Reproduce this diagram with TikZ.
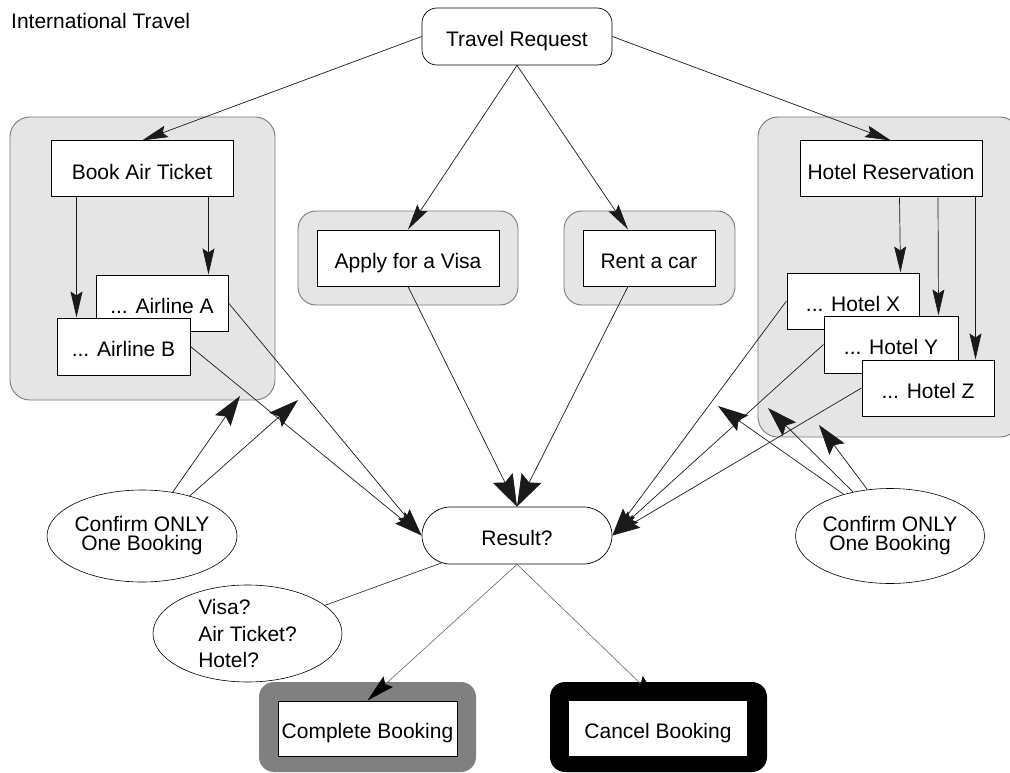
\documentclass[tikz,border=0pt]{standalone}
\usepackage{fontspec}
\setmainfont{Liberation Sans}
\usetikzlibrary{arrows.meta,shapes.geometric,shapes.misc}

\definecolor{grpfill}{HTML}{E5E5E5}
\definecolor{grpline}{HTML}{7A7A7A}
\definecolor{donefill}{HTML}{808080}
\definecolor{wire}{HTML}{1A1A1A}
\definecolor{softwire}{HTML}{666666}

\tikzset{
  lbl/.style={font=\fontsize{21}{25}\selectfont},
  box/.style={lbl, rectangle, draw=black, line width=1pt, fill=white,
    inner sep=0pt, text height=20pt, text depth=0pt},
  grp/.style={rectangle, draw=grpline, line width=0.9pt, fill=grpfill,
    rounded corners=20pt, inner sep=0pt},
  pill/.style={box, rounded rectangle, line width=0.7pt},
  roundbox/.style={box, rounded corners=15pt, line width=0.7pt},
  note/.style={ellipse, draw=black, line width=0.6pt, fill=white,
    inner sep=-6pt, font=\fontsize{21}{19}\selectfont},
  wirebase/.style={draw=wire, line width=0.7pt},
  smalltip/.style={wirebase, -{Stealth[length=26pt,width=12pt,inset=4pt]}},
  midtip/.style={wirebase, -{Stealth[length=28pt,width=15pt,inset=4pt]}},
  bigtip/.style={wirebase, -{Stealth[length=32pt,width=22pt,inset=5pt]}},
  pointer/.style={wirebase, -{Stealth[length=30pt,width=19pt,inset=5pt]}},
  softtip/.style={draw=softwire, line width=0.6pt,
    -{Stealth[length=28pt,width=14pt,inset=4pt,color=black]}},
}

\begin{document}
\begin{tikzpicture}[x=1pt,y=-1pt]
\useasboundingbox (0,0) rectangle (1010,773);

% heading
\node[lbl, anchor=base west, inner sep=0pt] (title) at (11,29) {International Travel};

% entry point
\node[roundbox, minimum width=190pt, minimum height=57pt] (treq) at (517,36.5) {Travel Request};

% air ticket group
\node[grp, minimum width=265pt, minimum height=283pt] (airgrp) at (142.5,258.5) {};
\node[box, minimum width=182pt, minimum height=56pt] (book) at (142,169) {Book Air Ticket};
\node[box, minimum width=132pt, minimum height=56pt] (airA) at (162,303) {... Airline A};
\node[box, minimum width=133pt, minimum height=57pt] (airB) at (123.5,346.5) {... Airline B};

% visa and car
\node[grp, rounded corners=18pt, minimum width=220pt, minimum height=94pt] (visagrp) at (408,258) {};
\node[box, minimum width=182pt, minimum height=56pt] (visa) at (408,258) {Apply for a Visa};
\node[grp, rounded corners=18pt, minimum width=171pt, minimum height=94pt] (cargrp) at (649.5,258) {};
\node[box, minimum width=132pt, minimum height=56pt] (car) at (649,258) {Rent a car};

% hotel group
\node[grp, minimum width=262pt, minimum height=320pt] (hotelgrp) at (889,277) {};
\node[box, minimum width=182pt, minimum height=56pt] (hres) at (891,169) {Hotel Reservation};
\node[box, minimum width=132pt, minimum height=56pt] (hx) at (853,301) {... Hotel X};
\node[box, minimum width=134pt, minimum height=57pt] (hy) at (891,344.5) {... Hotel Y};
\node[box, minimum width=132pt, minimum height=56pt] (hz) at (928,388) {... Hotel Z};

% outcome
\node[pill, minimum width=190pt, minimum height=57pt] (result) at (517,535.5) {Result?};

% notes
\node[note, align=center, minimum width=190pt, minimum height=92pt] (confL) at (142,536) {Confirm ONLY\\One Booking};
\node[note, align=center, minimum width=189pt, minimum height=95pt] (confR) at (890,536) {Confirm ONLY\\One Booking};
\node[note, align=left, font=\fontsize{21}{26.5}\selectfont, minimum width=189pt, minimum height=97pt] (q) at (247.5,633.5) {Visa?\\Air Ticket?\\Hotel?};

% final states
\node[rectangle, fill=donefill, rounded corners=15pt, minimum width=217pt, minimum height=90pt, inner sep=0pt] (cframe) at (367.5,727) {};
\node[box, minimum width=179pt, minimum height=55pt] (cinner) at (367.5,728.5) {Complete Booking};
\node[rectangle, fill=black, rounded corners=15pt, minimum width=217pt, minimum height=90pt, inner sep=0pt] (xframe) at (658.5,727) {};
\node[box, draw=none, minimum width=178pt, minimum height=55pt] (xinner) at (658,728.5) {Cancel Booking};

% points on the booking links that the notes refer to
\coordinate (tL1) at (240,396);
\coordinate (tL2) at (298,400);
\coordinate (tR1) at (718,406);
\coordinate (tR2) at (768,408);
\coordinate (tR3) at (819,425);

% request fan-out
\draw[smalltip] (treq.west) -- (book.north);
\draw[smalltip] (treq.east) -- (hres.north);
\draw[smalltip] (treq.south) -- (visa.north);
\draw[smalltip] (treq.south) -- ([xshift=-21pt]car.north);

% inside the groups
\draw[smalltip] ([xshift=26pt]book.south west) -- ([xshift=20pt]airB.north west);
\draw[smalltip] ([xshift=-25pt]book.south east) -- ([xshift=-20pt]airA.north east);
\draw[smalltip] ([xshift=100pt]hres.south west) -- ([xshift=-19pt]hx.north east);
\draw[smalltip] ([xshift=47pt]hres.south) -- ([xshift=-20pt]hy.north east);
\draw[smalltip] ([xshift=-7pt]hres.south east) -- ([xshift=-19pt]hz.north east);

% into the result
\draw[midtip] (airA.east) -- (result.west);
\draw[midtip] (airB.east) -- (result.west);
\draw[bigtip] (visa.south) -- (result.north);
\draw[bigtip] ([xshift=-21pt]car.south) -- (result.north);
\draw[midtip] (hx.west) -- (result.east);
\draw[midtip] (hy.west) -- (result.east);
\draw[midtip] (hz.west) -- (result.east);

% notes
\draw[pointer] (confL.55) -- (tL1);
\draw[pointer] (confL.40) -- (tL2);
\draw[pointer] (confR.138) -- (tR1);
\draw[pointer] (confR.130) -- (tR2);
\draw[pointer] (confR.116) -- (tR3);
\draw[wirebase, line width=0.6pt] (result) -- (q);

% outcomes
\draw[softtip] (result.south) -- (cinner.north);
\draw[softtip] (result.south) -- (xinner.north);
\end{tikzpicture}
\end{document}
